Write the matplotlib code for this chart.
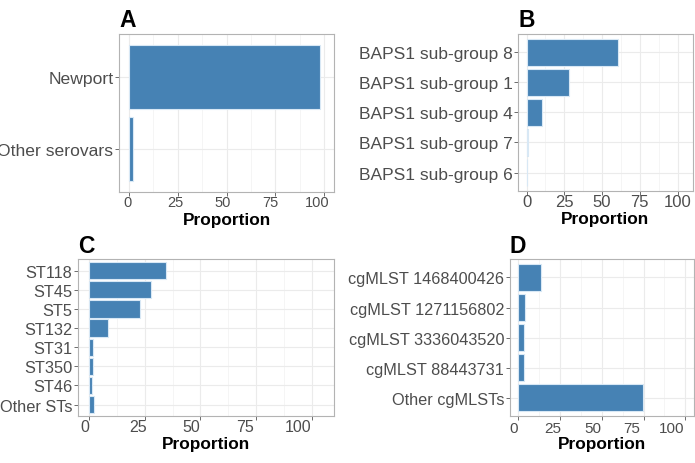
import numpy as np
import matplotlib.pyplot as plt
import matplotlib.transforms as mtransforms
from matplotlib.ticker import MultipleLocator

plt.rcParams['font.family'] = ['Liberation Sans', 'DejaVu Sans']

# panel A - serovars
serovars = ['Newport', 'Other serovars']
serovar_pct = [97.9, 2.1]

# panel B - BAPS1 sub-groups
baps = ['BAPS1 sub-group 8', 'BAPS1 sub-group 1', 'BAPS1 sub-group 4',
        'BAPS1 sub-group 7', 'BAPS1 sub-group 6']
baps_pct = [60.4, 28.0, 10.1, 1.2, 0.3]

# panel C - sequence types
sts = ['ST118', 'ST45', 'ST5', 'ST132', 'ST31', 'ST350', 'ST46', 'Other STs']
sts_pct = [34.4, 27.7, 22.9, 8.2, 1.8, 1.7, 1.4, 1.9]

# panel D - cgMLST types
cgmlst = ['cgMLST 1468400426', 'cgMLST 1271156802', 'cgMLST 3336043520',
          'cgMLST 88443731', 'Other cgMLSTs']
cgmlst_pct = [13.8, 4.3, 3.7, 3.7, 74.5]

xticks = [0, 25, 50, 75, 100]

W, H = 695, 464
fig = plt.figure(figsize=(W / 100, H / 100), dpi=100)


def px(ax, dx, dy):
    # offset in pixels (y downwards) from an axes transform
    return ax.transAxes + mtransforms.ScaledTranslation(dx / 100, -dy / 100, fig.dpi_scale_trans)


def panel(box, letter, cats, vals, xlim, ysize, xsize, tpad, lab_off, lab_scale, lab_dy):
    l, r, t, b = box
    ax = fig.add_axes([l / W, 1 - b / H, (r - l) / W, (b - t) / H])
    n = len(cats)
    pos = np.arange(n, 0, -1)
    ax.barh(pos, vals, height=0.9, color='#4682B4', edgecolor='#d8e8f5',
            linewidth=0.8, zorder=3)
    ax.set_ylim(0.4, n + 0.6)
    ax.set_xlim(*xlim)
    ax.set_yticks(pos)
    ax.set_yticklabels(cats)
    ax.set_xticks(xticks)
    ax.xaxis.set_minor_locator(MultipleLocator(12.5))
    ax.grid(True, which='major', color='#ebebeb', lw=0.8, zorder=0)
    ax.grid(True, which='minor', axis='x', color='#f2f2f2', lw=0.5, zorder=0)
    ax.tick_params(which='minor', length=0)
    ax.tick_params(axis='y', labelsize=ysize, labelcolor='#4d4d4d',
                   length=3, width=0.6, color='#555555', pad=1)
    ax.tick_params(axis='x', labelbottom=False,
                   length=3, width=0.6, color='#555555')
    for s in ax.spines.values():
        s.set_color('#b3b3b3')
        s.set_linewidth(0.8)

    # x tick labels, placed like in the source figure (slightly squeezed)
    ppu = (r - l) / (xlim[1] - xlim[0])
    trans = mtransforms.blended_transform_factory(ax.transData, ax.transAxes)
    for v in xticks:
        xv = lab_off / ppu + lab_scale * v
        ax.text(xv, 0, str(v), fontsize=xsize, color='#4d4d4d', ha='center',
                va='baseline',
                transform=trans + mtransforms.ScaledTranslation(0, -lab_dy / 100, fig.dpi_scale_trans))

    ax.text(0.5, 0, 'Proportion', fontsize=12.4, fontweight='bold', ha='center',
            va='baseline', transform=px(ax, 0, 32.5))
    ax.set_title(letter, loc='left', fontsize=16.5, fontweight='bold', pad=tpad)
    return ax


panel((119, 334, 35, 193), 'A', serovars, serovar_pct, (-5, 105),
      12.6, 10.5, 5.8, -1, 0.97, 14.3)
panel((518.3, 692.7, 35, 191.7), 'B', baps, baps_pct, (-5.5, 110),
      12.5, 12, 5.8, 0, 1.0, 15)
panel((77.7, 334.3, 260.3, 417), 'C', sts, sts_pct, (-5.25, 110.25),
      11.8, 11.5, 5.2, -4.7, 0.961, 15.3)
panel((509.7, 693.7, 260.3, 417), 'D', cgmlst, cgmlst_pct, (-5, 105),
      11.7, 11, 5.4, -4.4, 0.943, 16.3)

fig.savefig('out.png', dpi=100)
